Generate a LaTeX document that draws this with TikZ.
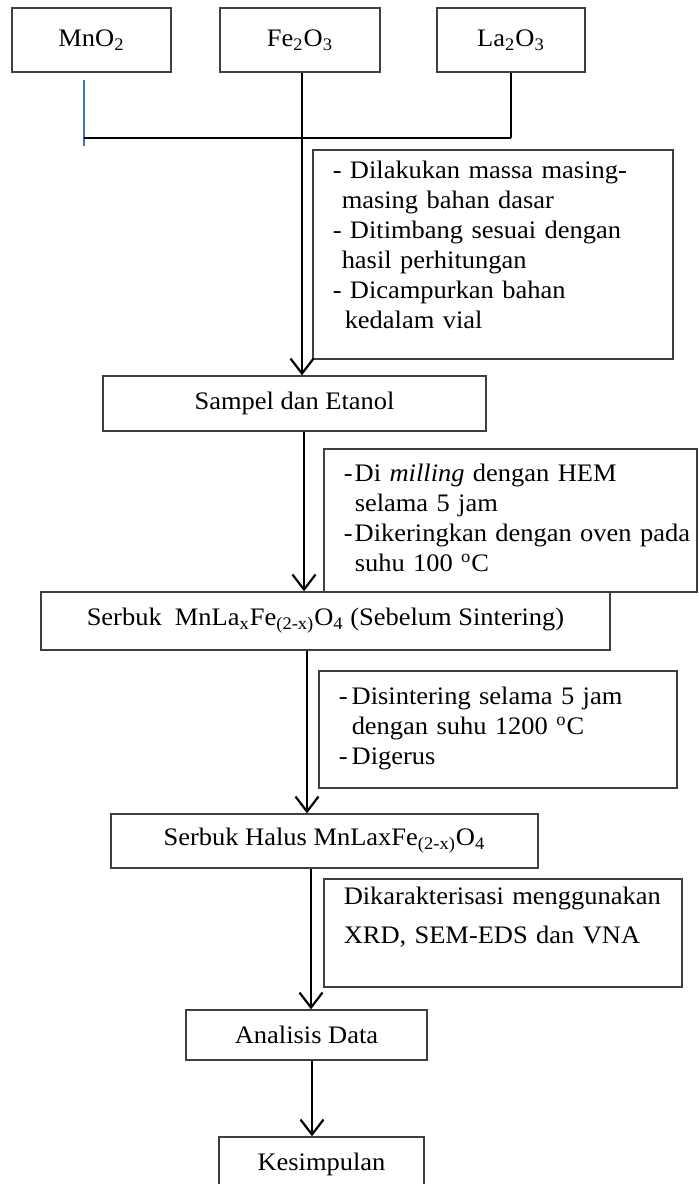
\documentclass[tikz,border=0pt]{standalone}
\usepackage{fontspec}
\setmainfont{Liberation Serif}[FakeStretch=1.05]
\usetikzlibrary{arrows.meta, positioning, calc}
\definecolor{wordblue}{HTML}{4472C4}
\definecolor{boxgray}{HTML}{3F3F3F}

\begin{document}
\begin{tikzpicture}[x=0.5pt, y=-0.5pt, >={Straight Barb[length=7.5pt, width=11.5pt]}, font=\fontsize{12.6}{14}\selectfont]
    \tikzstyle{box}=[draw=boxgray, rectangle, line width=0.65pt, inner sep=0pt];
    \tikzstyle{notetext}=[anchor=base west, align=left, inner sep=0pt, text width=190pt];
    \tikzstyle{flow}=[->, line width=1.1pt];
    \useasboundingbox (0,0) rectangle (698,1184);

    % bahan dasar
    \node[box, minimum width=79.5pt, minimum height=32pt] (mno) at (91.5,40) {MnO\textsubscript{2}};
    \node[box, minimum width=80pt, minimum height=32pt] (feo) at (300,40) {Fe\textsubscript{2}O\textsubscript{3}};
    \node[box, minimum width=74pt, minimum height=32pt] (lao) at (511,40) {La\textsubscript{2}O\textsubscript{3}};

    \coordinate (blue1) at (84,80);
    \coordinate (blue2) at (84,146);
    \coordinate (cross) at (302,138);
    \draw[wordblue, line width=0.65pt] (blue1) -- (blue2);
    \draw[line width=0.65pt] ([xshift=1pt]feo.south) -- (cross);
    \draw[line width=0.65pt] (lao.south) -- (lao.south |- cross);
    \draw[line width=1pt] (blue2 |- cross) -- (lao.south |- cross);

    % alur utama
    \node[box, minimum width=191.5pt, minimum height=27.5pt] (sampel) at (294.5,403.5) {Sampel dan Etanol};
    \node[box, minimum width=284.5pt, minimum height=29pt] (serbuk) at (325.5,621) {Serbuk\ \ MnLa\textsubscript{x}Fe\textsubscript{(2-x)}O\textsubscript{4} (Sebelum Sintering)};
    \node[box, minimum width=213.5pt, minimum height=27pt] (halus) at (324.5,841) {Serbuk Halus MnLaxFe\textsubscript{(2-x)}O\textsubscript{4}};
    \node[box, minimum width=120.5pt, minimum height=25pt] (analisis) at (306.5,1035) {Analisis Data};
    \node[box, minimum width=102.5pt, minimum height=27pt] (simpulan) at (321.5,1164) {Kesimpulan};

    % keterangan proses
    \node[box, minimum width=180pt, minimum height=104.5pt] (note1) at (493,254.5) {};
    \node[box, minimum width=186.5pt, minimum height=71.5pt] (note2) at (510.5,520.5) {};
    \node[box, minimum width=179pt, minimum height=58.5pt] (note3) at (498,729.5) {};
    \node[box, minimum width=179pt, minimum height=54pt] (note4) at (503,933) {};

    \node[notetext, font=\fontsize{12.6}{15}\selectfont] (note1txt) at ([shift={(20,29)}]note1.north west)
        {- Dilakukan massa masing-\\\hspace*{4.5pt}masing bahan dasar\\- Ditimbang sesuai dengan\\\hspace*{4.5pt}hasil perhitungan\\- Dicampurkan bahan\\\hspace*{6pt}kedalam vial};
    \node[notetext, font=\fontsize{12.6}{15}\selectfont] (note2txt) at ([shift={(20,33)}]note2.north west)
        {\makebox[5.5pt][l]{-}Di \textit{milling} dengan HEM\\\hspace*{5.5pt}selama 5 jam\\\makebox[5.5pt][l]{-}Dikeringkan dengan oven pada\\\hspace*{5.5pt}suhu 100 \textsuperscript{o}C};
    \node[notetext, font=\fontsize{12.6}{15}\selectfont] (note3txt) at ([shift={(20,34)}]note3.north west)
        {\makebox[6.5pt][l]{-}Disintering selama 5 jam\\\hspace*{6.5pt}dengan suhu 1200 \textsuperscript{o}C\\\makebox[6.5pt][l]{-}Digerus};
    \node[notetext, font=\fontsize{12.6}{19.5}\selectfont] (note4txt) at ([shift={(20,26)}]note4.north west)
        {Dikarakterisasi menggunakan\\XRD, SEM-EDS dan VNA};

    \draw[flow] (cross) -- (cross |- sampel.north);
    \draw[flow] ([xshift=4.75pt]sampel.south) -- ([xshift=4.75pt]sampel.south |- serbuk.north);
    \draw[flow] ([xshift=-9.25pt]serbuk.south) -- ([xshift=-9.25pt]serbuk.south |- halus.north);
    \draw[flow] ([xshift=-6.75pt]halus.south) -- ([xshift=-6.75pt]halus.south |- analisis.north);
    \draw[flow] ([xshift=2.75pt]analisis.south) -- ([xshift=2.75pt]analisis.south |- simpulan.north);
  \end{tikzpicture}
\end{document}
